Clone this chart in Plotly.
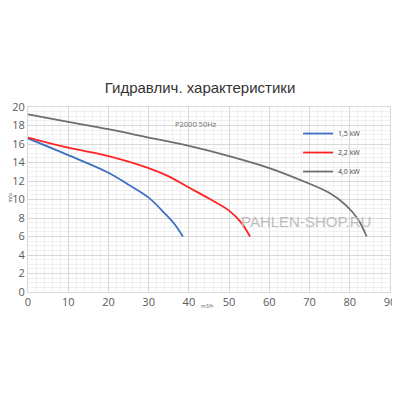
import plotly.graph_objects as go

# P2000 50Hz pump curves: flow (m3/h) vs head (m)
flow_15 = [0, 10, 20, 25, 30, 34, 36.5, 38.5]
head_15 = [16.6, 14.8, 12.9, 11.6, 10.2, 8.5, 7.3, 6.0]

flow_22 = [0, 10, 20, 30, 35, 40, 45, 50, 53, 55.2]
head_22 = [16.7, 15.6, 14.7, 13.4, 12.5, 11.3, 10.1, 8.8, 7.5, 6.0]

flow_40 = [0, 10, 20, 30, 40, 50, 60, 70, 75, 79, 82, 84.2]
head_40 = [19.2, 18.4, 17.6, 16.7, 15.8, 14.7, 13.4, 11.7, 10.7, 9.4, 7.9, 6.0]

series_names = ["1,5 kW", "2,2 kW", "4,0 kW"]
series_colors = ["#3f6fc4", "#ff2424", "#6e6e6e"]

fig = go.Figure()
for name, xs, ys, col in zip(series_names, [flow_15, flow_22, flow_40],
                             [head_15, head_22, head_40], series_colors):
    fig.add_trace(go.Scatter(x=xs, y=ys, mode="lines", name=name,
                             line=dict(color=col, width=1.8, shape="spline", smoothing=1.0),
                             legendgroup=name))

# page has an 8px body margin, so margins are shifted to compensate
fig.update_layout(
    width=400, height=400,
    margin=dict(l=20, r=18, t=99, b=116),
    paper_bgcolor="white", plot_bgcolor="white",
    font=dict(family="Open Sans, Arial", color="#595959"),
    title=dict(text="Гидравлич. характеристики", x=0.48, xanchor="center",
               y=0.8, yanchor="middle",
               font=dict(size=15, color="#333333", family="Liberation Sans, Arial")),
    legend=dict(x=0.746, y=0.935, xanchor="left", yanchor="top",
                font=dict(size=7, color="#444444"),
                tracegroupgap=0, itemwidth=30, bgcolor="rgba(0,0,0,0)"),
    showlegend=True,
    annotations=[
        dict(text="P2000 50Hz", x=0.464, y=0.946, xref="paper", yref="paper",
             xanchor="center", showarrow=False, font=dict(size=7.5, color="#707070")),
        dict(text="PAHLEN-SHOP.RU", x=0.768, y=0.38, xref="paper", yref="paper",
             xanchor="center", showarrow=False,
             font=dict(size=15, color="#bdbdbd", family="Liberation Sans, Arial")),
        dict(text="m3/h", x=0.494, y=-0.1, xref="paper", yref="paper",
             xanchor="center", showarrow=False, font=dict(size=5, color="#595959")),
        dict(text="m/p", x=-0.05, y=0.51, xref="paper", yref="paper", textangle=-90,
             xanchor="center", showarrow=False, font=dict(size=5, color="#595959")),
    ],
)

fig.update_xaxes(range=[0, 90], dtick=10, showgrid=True, gridcolor="#d9d9d9",
                 gridwidth=1, zeroline=False, showline=True, linecolor="#d9d9d9",
                 tickfont=dict(size=11, color="#595959"), ticks="", automargin=False,
                 minor=dict(dtick=2, showgrid=True, gridcolor="#f0f0f0"),
                 mirror=True)
fig.update_yaxes(range=[0, 20], dtick=2, showgrid=True, gridcolor="#d9d9d9",
                 gridwidth=1, zeroline=False, showline=True, linecolor="#d9d9d9",
                 tickfont=dict(size=11, color="#595959"), ticks="", automargin=False,
                 minor=dict(dtick=0.5, showgrid=True, gridcolor="#f0f0f0"),
                 mirror=True)

fig.write_html("out.html")
